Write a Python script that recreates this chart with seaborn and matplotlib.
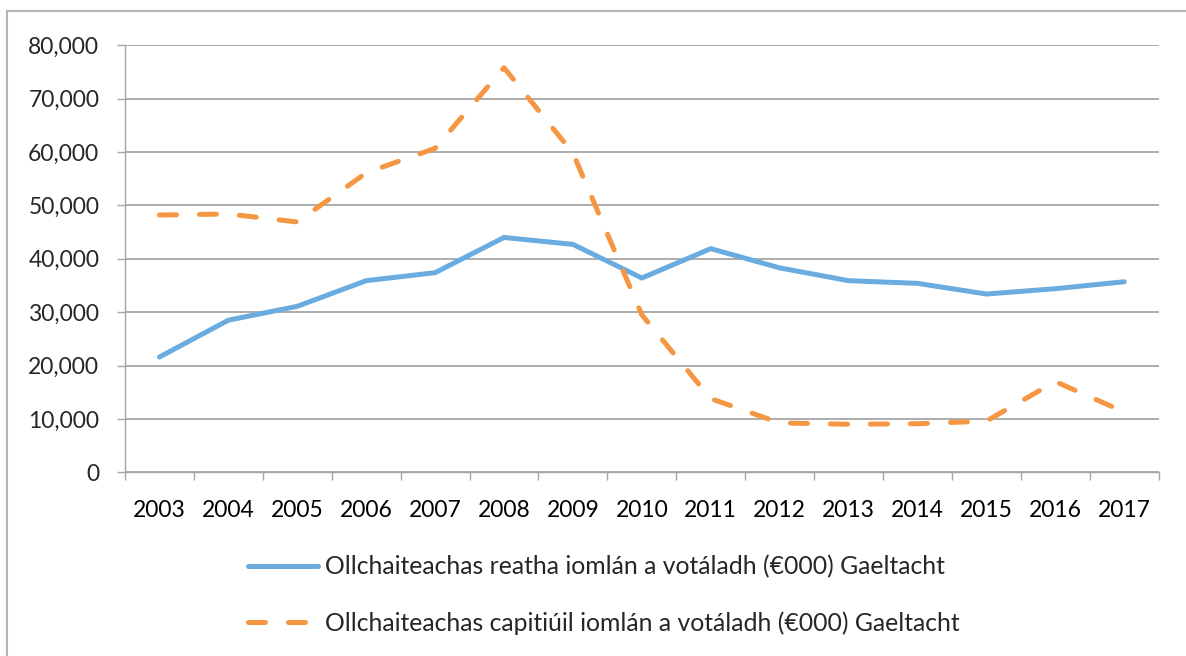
import matplotlib
matplotlib.use("Agg")
import matplotlib.pyplot as plt
import seaborn as sns
import pandas as pd
import numpy as np
from matplotlib.lines import Line2D

years = ["2003", "2004", "2005", "2006", "2007", "2008", "2009", "2010",
         "2011", "2012", "2013", "2014", "2015", "2016", "2017"]
current_exp = [21600, 28500, 31100, 35900, 37400, 44000, 42700, 36400,
               41900, 38300, 35900, 35400, 33400, 34400, 35700]
capital_exp = [48200, 48400, 46900, 56100, 60700, 75800, 59800, 29500,
               13800, 9250, 9000, 9100, 9600, 17000, 11300]
series_names = ["Ollchaiteachas reatha iomlán a votáladh (€000) Gaeltacht",
                "Ollchaiteachas capitiúil iomlán a votáladh (€000) Gaeltacht"]
yticks = [0, 10000, 20000, 30000, 40000, 50000, 60000, 70000, 80000]

sns.set_theme(style="white")
plt.rcParams['font.family'] = ['Lato', 'DejaVu Sans']

blue = "#6aacdf"
orange = "#f59642"
gridc = "#969696"
LW = 3.6
DASH = (3.4, 4.6)

df = pd.DataFrame({
    "pos": list(range(len(years))) * 2,
    "value": current_exp + capital_exp,
    "series": [series_names[0]] * len(years) + [series_names[1]] * len(years),
})

fig = plt.figure(figsize=(11.86, 6.56), dpi=100)
ax = fig.add_axes([125/1186, 1 - 472.3/656, (1158.7-125)/1186, (472.3-45.3)/656])

sns.lineplot(data=df, x="pos", y="value", hue="series", style="series",
             palette=[blue, orange], dashes=[(None, None), DASH],
             linewidth=LW, legend=False, ax=ax, sort=False)
for ln in ax.get_lines():
    ln.set_solid_capstyle("round")
    ln.set_dash_capstyle("round")
    ln.set_solid_joinstyle("miter")

ax.set_xlim(-0.5, len(years) - 0.5)
ax.set_ylim(0, 80000)
ax.set_yticks(yticks)
ax.set_yticklabels([f"{v:,}" for v in yticks])
ax.set_xticks(range(len(years)))
ax.set_xticklabels(years)
ax.set_xticks(np.arange(-0.5, len(years), 1.0), minor=True)
ax.tick_params(axis="x", which="major", length=0, pad=20, labelsize=16.5, colors="black")
ax.tick_params(axis="x", which="minor", length=5.5, width=1, color="#a6a6a6", direction="out", bottom=True)
ax.tick_params(axis="y", which="major", length=5.5, width=1, color="#a6a6a6", direction="out",
               pad=13, labelsize=16.5, left=True)
ax.yaxis.grid(True, color=gridc, linewidth=1.1)
ax.set_axisbelow(True)
for s in ["top", "right"]:
    ax.spines[s].set_visible(False)
ax.spines["left"].set_color("#a6a6a6")
ax.spines["bottom"].set_color("#a6a6a6")
ax.spines["left"].set_linewidth(1)
ax.spines["bottom"].set_linewidth(1)
ax.set_xlabel("")
ax.set_ylabel("")

handles = [Line2D([], [], color=blue, lw=LW, solid_capstyle="round"),
           Line2D([], [], color=orange, lw=LW, dashes=DASH, dash_capstyle="round")]
fig.legend(handles, series_names, loc="upper left", bbox_to_anchor=(248/1186, 1 - 555/656),
           frameon=False, fontsize=17.8, handlelength=2.83, handletextpad=0.28,
           labelspacing=1.34, borderaxespad=0, borderpad=0)

# outer chart frame
fig.add_artist(Line2D([7/1186, 7/1186], [0, 1 - 11/656], transform=fig.transFigure,
                      color="#b4b4b4", lw=1.5))
fig.add_artist(Line2D([7/1186, 1], [1 - 11/656, 1 - 11/656], transform=fig.transFigure,
                      color="#b4b4b4", lw=1.5))

fig.savefig("out.png", dpi=100)
